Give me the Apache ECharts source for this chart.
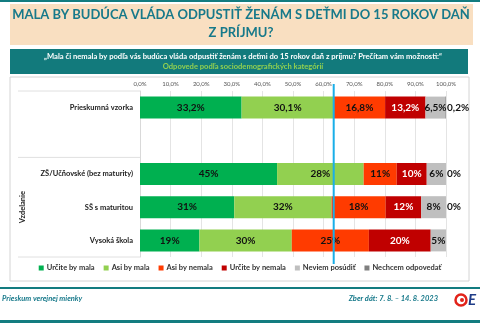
<!DOCTYPE html>
<html><head><meta charset="utf-8">
<script src="https://cdn.jsdelivr.net/npm/echarts@6/dist/echarts.min.js"></script>
<style>html,body{margin:0;padding:0;background:#fff}#c{width:480px;height:323px}</style>
</head><body><div id="c"></div>
<script>
const categories = ['Prieskumná vzorka', '', 'ZŠ/Učňovské (bez maturity)', 'SŠ s maturitou', 'Vysoká škola'];
const seriesNames = ['Určite by mala', 'Asi by mala', 'Asi by nemala', 'Určite by nemala', 'Neviem posúdiť', 'Nechcem odpovedať'];
const urciteMala   = [33.2, null, 44.8, 30.8, 19.4];
const asiMala      = [30.1, null, 28.3, 31.8, 30.2];
const asiNemala    = [16.8, null, 10.8, 17.7, 25.2];
const urciteNemala = [13.2, null, 9.8, 11.6, 20.2];
const neviem       = [6.5, null, 6.3, 8.1, 5.0];
const nechcem      = [0.2, null, 0, 0, null];
const xTickMin = 0, xTickMax = 100, xTickStep = 10;
const markValue = 63.3; // Určite + Asi by mala (prieskumná vzorka)

const seriesData = [urciteMala, asiMala, asiNemala, urciteNemala, neviem, nechcem];
const colors = ['#00B050', '#92D050', '#FF3B00', '#C00000', '#BFBFBF', '#7F7F7F'];
const labelColors = ['#111', '#111', '#111', '#fff', '#111', '#111'];
const FONT = 'Lato';
const TEAL = '#137C80';

function fmt(p) {
  if (p.value == null) return '';
  const v = p.dataIndex === 0 ? p.value.toFixed(1).replace('.', ',') : String(Math.round(p.value));
  return v + '%';
}

const chart = echarts.init(document.getElementById('c'), null, {renderer: 'canvas'});
const GRID = {left: 140, right: 34, top: 91, bottom: 66};

const series = seriesData.map((d, i) => ({
  name: seriesNames[i],
  type: 'bar',
  stack: 'all',
  data: d,
  barWidth: 22,
  itemStyle: {color: colors[i]},
  label: {
    show: true,
    position: i === 5 ? 'right' : 'inside',
    distance: 1,
    formatter: fmt,
    fontFamily: FONT,
    fontWeight: 'bold',
    fontSize: 10,
    color: labelColors[i]
  }
}));

chart.setOption({
  animation: false,
  textStyle: {fontFamily: FONT},
  grid: GRID,
  xAxis: {
    type: 'value', min: xTickMin, max: xTickMax, interval: xTickStep, position: 'top',
    axisLine: {show: false}, axisTick: {show: false},
    axisLabel: {formatter: v => v.toFixed(1).replace('.', ',') + '%', fontSize: 6, color: '#555', margin: 4, fontFamily: FONT},
    splitLine: {lineStyle: {color: '#e4e4e4', width: 1}}
  },
  yAxis: {
    type: 'category', inverse: true, data: categories,
    axisLine: {show: true, lineStyle: {color: '#d9d9d9'}}, axisTick: {show: false},
    axisLabel: {fontSize: 7.5, fontWeight: 'bold', color: '#222', margin: 7, fontFamily: FONT}
  },
  legend: {
    bottom: 46, left: 'center', icon: 'rect', itemWidth: 5, itemHeight: 5, itemGap: 9,
    textStyle: {fontSize: 7.5, fontWeight: 'bold', color: '#333', fontFamily: FONT, padding: [0, 0, 0, -2]},
    data: seriesNames
  },
  series: series
});

const bx = chart.convertToPixel({xAxisIndex: 0}, markValue);
const plotTop = GRID.top, plotBottom = 323 - GRID.bottom;
const rowH = (plotBottom - plotTop) / categories.length;
const sepY = plotTop + rowH * 2;

chart.setOption({
  graphic: [
    {type: 'rect', z: -10, shape: {x: 10, y: 77, width: 459, height: 204}, style: {fill: '#fff', stroke: '#d4d4d4', lineWidth: 1}},
    {type: 'rect', z: 10, shape: {x: 0, y: 0, width: 480, height: 2}, style: {fill: TEAL}},
    {type: 'rect', z: 10, shape: {x: 10, y: 4, width: 463, height: 41}, style: {fill: '#F9DFC1'}},
    {type: 'text', z: 11, x: 241, y: 15, style: {text: 'MALA BY BUDÚCA VLÁDA ODPUSTIŤ ŽENÁM S DEŤMI DO 15 ROKOV DAŇ', fill: '#17798A', font: 'bold 13px Lato', textAlign: 'center', textVerticalAlign: 'middle'}},
    {type: 'text', z: 11, x: 241, y: 33, style: {text: 'Z PRÍJMU?', fill: '#17798A', font: 'bold 13px Lato', textAlign: 'center', textVerticalAlign: 'middle'}},
    {type: 'rect', z: 10, shape: {x: 10, y: 49, width: 458, height: 25}, style: {fill: '#127A7C'}},
    {type: 'text', z: 11, x: 243, y: 57, style: {text: '„Mala či nemala by podľa vás budúca vláda odpustiť ženám s deťmi do 15 rokov daň z príjmu? Prečítam vám možnosti:“', fill: '#fff', font: 'bold 7.6px Lato', textAlign: 'center', textVerticalAlign: 'middle'}},
    {type: 'text', z: 11, x: 243, y: 67, style: {text: 'Odpovede podľa sociodemografických kategórií', fill: '#92D050', font: 'bold 7.6px Lato', textAlign: 'center', textVerticalAlign: 'middle'}},
    {type: 'line', z: 10, shape: {x1: 18, y1: plotTop, x2: GRID.left, y2: plotTop}, style: {stroke: '#e0e0e0', lineWidth: 1}},
    {type: 'line', z: 10, shape: {x1: 18, y1: sepY, x2: GRID.left, y2: sepY}, style: {stroke: '#e0e0e0', lineWidth: 1}},
    {type: 'line', z: 10, shape: {x1: 18, y1: plotBottom, x2: GRID.left, y2: plotBottom}, style: {stroke: '#e0e0e0', lineWidth: 1}},
    {type: 'text', z: 11, x: 23, y: plotTop + rowH * 3.5, rotation: Math.PI / 2, style: {text: 'Vzdelanie', fill: '#222', font: 'bold 7.5px Lato', textAlign: 'center', textVerticalAlign: 'middle'}},
    {type: 'line', z: 100, shape: {x1: bx, y1: 84, x2: bx, y2: 264}, style: {stroke: '#19AEE8', lineWidth: 2}},
    {type: 'rect', z: 10, shape: {x: 0, y: 287, width: 480, height: 2}, style: {fill: TEAL}},
    {type: 'rect', z: 10, shape: {x: 0, y: 320, width: 480, height: 3}, style: {fill: TEAL}},
    {type: 'text', z: 11, x: 2, y: 299, style: {text: 'Prieskum verejnej mienky', fill: '#17798A', font: 'italic bold 7.5px Lato', textAlign: 'left', textVerticalAlign: 'middle'}},
    {type: 'text', z: 11, x: 438, y: 299, style: {text: 'Zber dát: 7. 8. – 14. 8. 2023', fill: '#17798A', font: 'italic bold 7.5px Lato', textAlign: 'right', textVerticalAlign: 'middle'}},
    {type: 'circle', z: 11, shape: {cx: 461, cy: 300, r: 5.5}, style: {fill: 'none', stroke: '#E2231A', lineWidth: 2.5}},
    {type: 'circle', z: 11, shape: {cx: 462, cy: 300, r: 2}, style: {fill: '#E2231A'}},
    {type: 'text', z: 11, x: 468, y: 300, style: {text: 'E', fill: '#1F3C88', font: 'italic bold 15px Lato', textAlign: 'left', textVerticalAlign: 'middle'}}
  ]
});
</script></body></html>
